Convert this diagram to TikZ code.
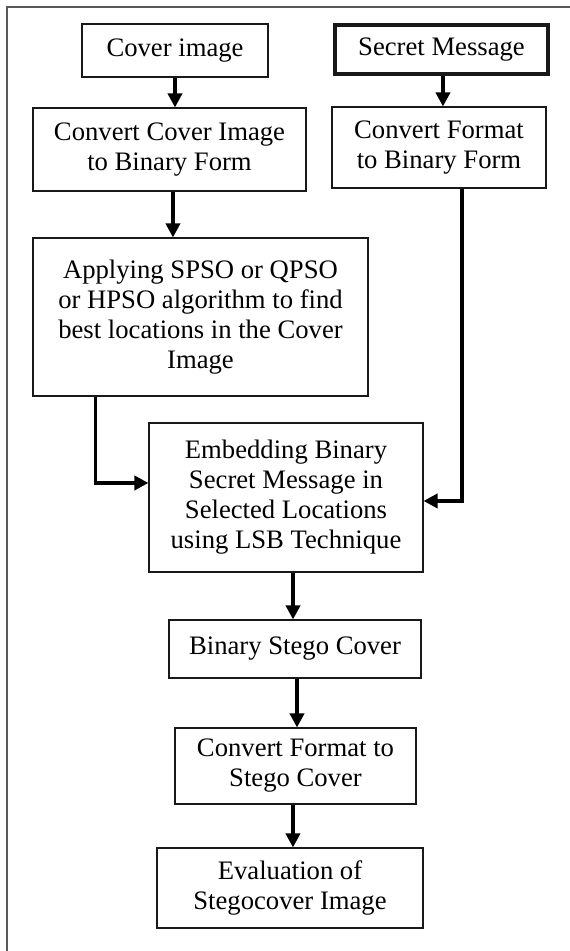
\documentclass[tikz,border=0pt]{standalone}
\usepackage{fontspec}
\setmainfont{Liberation Serif}
\usetikzlibrary{arrows.meta}

\begin{document}
\begin{tikzpicture}[x=0.75pt,y=-0.75pt,
  flowbox/.style n args={2}{draw=black!90, line width=0.8pt, fill=white,
    align=center, inner sep=0pt, font=\fontsize{20}{22.5}\selectfont,
    minimum width=#1, minimum height=#2},
  thickbox/.style={line width=2.3pt},
  flow/.style={draw=black, line width=2.8pt,
    -{Triangle[length=10.5pt,width=10.5pt]}},
  frame/.style={draw=black!65, line width=1.1pt}
]
\useasboundingbox (0,0) rectangle (570,951);

% outer border
\coordinate (fbl) at (7,951);
\coordinate (ftl) at (7,7);
\coordinate (ftr) at (570,7);
\draw[frame] (fbl) -- (ftl) -- (ftr);

% process boxes
\node[flowbox={139.5pt}{39.75pt}] (cover) at (175,50.5) {Cover image};
\node[flowbox={159.75pt}{36.75pt}, thickbox] (secret) at (441.5,49.5) {Secret Message};
\node[flowbox={204.75pt}{62.25pt}] (convcover) at (169.5,149.5) {Convert Cover Image\\to Binary Form};
\node[flowbox={160.5pt}{60.75pt}] (convfmt) at (439,147.5) {Convert Format\\to Binary Form};
\node[flowbox={251.25pt}{118.5pt}] (apply) at (200.5,317) {Applying SPSO or QPSO\\or HPSO algorithm to find\\best locations in the Cover\\Image};
\node[flowbox={205.5pt}{111.75pt}] (embed) at (286,497.5) {Embedding Binary\\Secret Message in\\Selected Locations\\using LSB Technique};
\node[flowbox={189pt}{43.5pt}] (binstego) at (295,649) {Binary Stego Cover};
\node[flowbox={180.75pt}{57pt}] (convstego) at (295.5,766) {Convert Format to\\Stego Cover};
\node[flowbox={199.5pt}{60pt}] (evalu) at (290,888) {Evaluation of\\Stegocover Image};

% connectors
\draw[flow] (cover.south) -- (cover.south |- convcover.north);
\draw[flow] ([xshift=1.1pt]secret.south) -- ([xshift=1.1pt]secret.south |- convfmt.north);
\draw[flow] ([xshift=2.6pt]convcover.south) -- ([xshift=2.6pt]convcover.south |- apply.north);
\draw[flow] ([xshift=47.25pt]apply.south west) |- ([yshift=10.9pt]embed.west);
\draw[flow] ([xshift=17.25pt]convfmt.south) |- ([yshift=-2.6pt]embed.east);
\draw[flow] ([xshift=5.25pt]embed.south) -- ([xshift=5.25pt]embed.south |- binstego.north);
\draw[flow] ([xshift=1.5pt]binstego.south) -- ([xshift=1.5pt]binstego.south |- convstego.north);
\draw[flow] ([xshift=-1.9pt]convstego.south) -- ([xshift=-1.9pt]convstego.south |- evalu.north);
\end{tikzpicture}
\end{document}
